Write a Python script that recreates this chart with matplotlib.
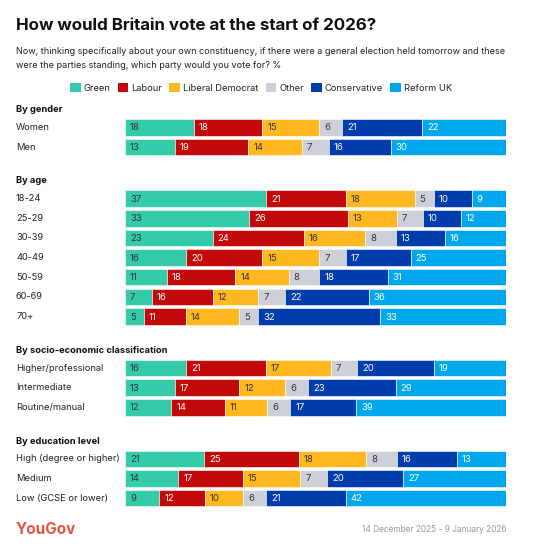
import matplotlib.pyplot as plt
import numpy as np
from matplotlib.patches import Patch

plt.rcParams['font.family'] = ['Inter', 'DejaVu Sans']

parties = ['Green', 'Labour', 'Liberal Democrat', 'Other', 'Conservative', 'Reform UK']
colors = ['#33CBA9', '#C30A0A', '#FFB81F', '#CDD0D9', '#003CAB', '#00A7EC']
text_colors = ['#333333', 'white', '#333333', '#333333', 'white', 'white']

groups = ['By gender', 'By age', 'By socio-economic classification', 'By education level']

gender_labels = ['Women', 'Men']
gender_values = [
    [18, 18, 15, 6, 21, 22],
    [13, 19, 14, 7, 16, 30],
]

age_labels = ['18-24', '25-29', '30-39', '40-49', '50-59', '60-69', '70+']
age_values = [
    [37, 21, 18, 5, 10, 9],
    [33, 26, 13, 7, 10, 12],
    [23, 24, 16, 8, 13, 16],
    [16, 20, 15, 7, 17, 25],
    [11, 18, 14, 8, 18, 31],
    [7, 16, 12, 7, 22, 36],
    [5, 11, 14, 5, 32, 33],
]

ses_labels = ['Higher/professional', 'Intermediate', 'Routine/manual']
ses_values = [
    [16, 21, 17, 7, 20, 19],
    [13, 17, 12, 6, 23, 29],
    [12, 14, 11, 6, 17, 39],
]

edu_labels = ['High (degree or higher)', 'Medium', 'Low (GCSE or lower)']
edu_values = [
    [21, 25, 18, 8, 16, 13],
    [14, 17, 15, 7, 20, 27],
    [9, 12, 10, 6, 21, 42],
]

all_labels = [gender_labels, age_labels, ses_labels, edu_labels]
all_values = [gender_values, age_values, ses_values, edu_values]

W = H = 554
fig = plt.figure(figsize=(W / 100, H / 100), dpi=100)

# axes in pixel units (y grows downward)
ax = fig.add_axes([125 / W, 0, 381 / W, 1])
ax.set_xlim(0, 100)
ax.set_ylim(H, 0)
ax.axis('off')

def fx(px):
    return px / W

def fy(py):
    return 1 - py / H

pitch = 19.65
bar_h = 16.4
y = 127.5
for g, labels, vals in zip(groups, all_labels, all_values):
    fig.text(fx(16), fy(y - 17.8), g, fontsize=6.7, fontweight='bold',
             color='#111111', va='center', ha='left')
    for i, (lab, row) in enumerate(zip(labels, vals)):
        yc = y + i * pitch
        row = np.array(row, dtype=float)
        share = row / row.sum() * 100
        left = np.concatenate([[0], np.cumsum(share)[:-1]])
        ax.barh(yc, share, left=left, height=bar_h, color=colors,
                edgecolor='white', linewidth=0.4)
        for v, l, tc in zip(row, left, text_colors):
            ax.text(l + 1.3, yc + 0.5, str(int(v)), fontsize=6.9, color=tc,
                    va='center', ha='left')
        fig.text(fx(16), fy(yc), lab, fontsize=6.7, color='#222222',
                 va='center', ha='left')
    y += (len(labels) - 1) * pitch + 51.5

fig.text(fx(16), fy(25), 'How would Britain vote at the start of 2026?',
         fontsize=12.2, fontweight='bold', color='#111111', va='center', ha='left')
fig.text(fx(16), fy(51), 'Now, thinking specifically about your own constituency, if there were a general election held tomorrow and these',
         fontsize=6.54, color='#222222', va='center', ha='left')
fig.text(fx(16), fy(65), 'were the parties standing, which party would you vote for? %',
         fontsize=6.54, color='#222222', va='center', ha='left')

handles = [Patch(facecolor=c, edgecolor='none') for c in colors]
fig.legend(handles, parties, loc='center', bbox_to_anchor=(fx(261), fy(88)),
           ncol=6, frameon=False, fontsize=6.7, handlelength=1.15, handleheight=1.15,
           handletextpad=0.3, columnspacing=0.8, labelcolor='#222222')

fig.text(fx(16), fy(529), 'YouGov', fontsize=11, fontweight='bold',
         color='#E8533F', va='center', ha='left')
fig.text(fx(506), fy(529), '14 December 2025 - 9 January 2026', fontsize=6.0,
         color='#9A9A9A', va='center', ha='right')

fig.savefig('out.png', dpi=100)
